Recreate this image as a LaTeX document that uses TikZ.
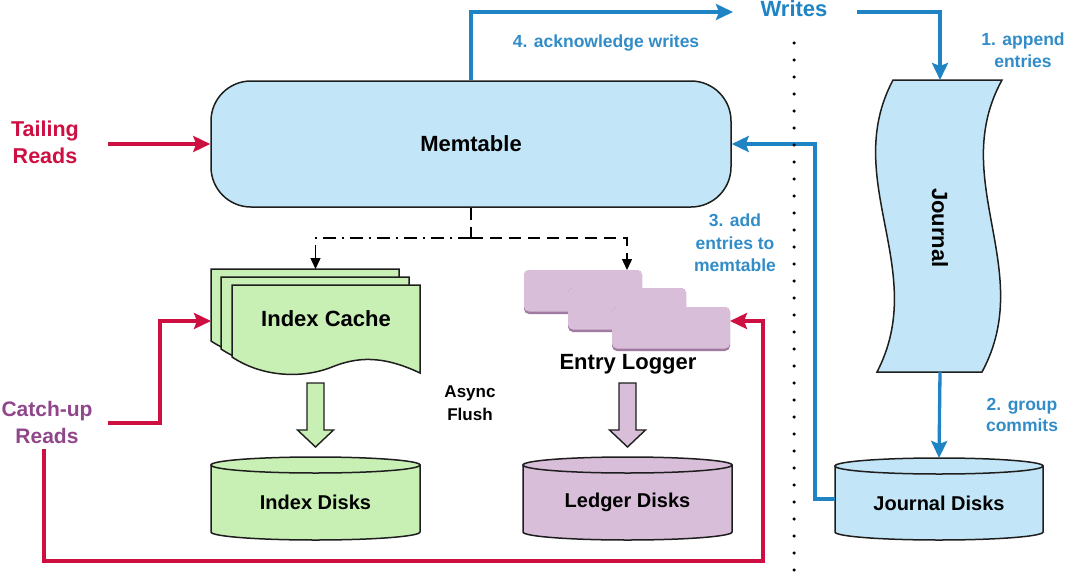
\documentclass[tikz,border=0pt]{standalone}
\usepackage{fontspec}
\setmainfont{Liberation Sans}
\usetikzlibrary{arrows.meta}
\definecolor{memblue}{RGB}{194,230,247}
\definecolor{cachegreen}{RGB}{200,239,180}
\definecolor{logpink}{RGB}{217,190,217}
\definecolor{logshadow}{RGB}{160,122,160}
\definecolor{lineblue}{RGB}{30,132,196}
\definecolor{txtblue}{RGB}{50,140,200}
\definecolor{readred}{RGB}{205,15,65}
\definecolor{catchpurple}{RGB}{145,70,140}
\definecolor{outline}{RGB}{30,30,30}
\begin{document}
\begin{tikzpicture}[x=1pt,y=-1pt,
  shapeline/.style={draw=outline, line width=1.5pt},
  big/.style={font=\bfseries\fontsize{22}{27}\selectfont, align=center, inner sep=0pt},
  mid/.style={font=\bfseries\fontsize{20}{24}\selectfont, align=center, inner sep=0pt},
  bluelbl/.style={text=txtblue, font=\bfseries\fontsize{17.5}{22.5}\selectfont, align=center, inner sep=0pt},
  ghost/.style={inner sep=0pt, outer sep=0pt},
  bluearrow/.style={draw=lineblue, line width=3.3pt, -{Stealth[length=17pt,width=16pt,inset=3pt]}},
  redarrow/.style={draw=readred, line width=3.3pt, -{Stealth[length=17pt,width=16pt,inset=3pt]}},
  blackarrow/.style={draw=black, line width=1.4pt, -{Triangle[length=11pt,width=10pt]}},
  blockarrow/.style={draw=outline, line width=1.4pt},
  dotline/.style={draw=black, line width=3.5pt, line cap=round, dash pattern=on 0pt off 17pt}
]
\useasboundingbox (0,0) rectangle (1086,586);

% ---------- Memtable ----------
\node[shapeline, fill=memblue, rounded corners=40pt, minimum width=520pt, minimum height=126pt, inner sep=0pt,
      font=\bfseries\fontsize{22}{27}\selectfont] (mem) at (471,144) {Memtable};

% ---------- Journal (tape) ----------
\filldraw[shapeline, fill=memblue] (893,80) -- (1002,80)
   .. controls (947,180) and (1037,270) .. (982,372) -- (877,372)
   .. controls (930,270) and (840,180) .. (893,80) -- cycle;
\node[ghost, minimum width=126pt, minimum height=292pt] (jrnl) at (940,226) {};
\node[big, rotate=-90] (jlbl) at (940,228) {Journal};

% ---------- Disks ----------
% Index Disks
\filldraw[shapeline, fill=cachegreen] (211,465) -- (211,532)
   .. controls (211,536.4) and (257.8,540) .. (315.5,540)
   .. controls (373.2,540) and (420,536.4) .. (420,532) -- (420,465) -- cycle;
\filldraw[shapeline, fill=cachegreen] (315.5,465) ellipse [x radius=104.5, y radius=8];
\node[ghost, minimum width=209pt, minimum height=75pt, mid] (idisk) at (315.5,502.5) {Index Disks};
% Ledger Disks
\filldraw[shapeline, fill=logpink] (523,465) -- (523,532)
   .. controls (523,536.4) and (569.8,540) .. (627.5,540)
   .. controls (685.2,540) and (732,536.4) .. (732,532) -- (732,465) -- cycle;
\filldraw[shapeline, fill=logpink] (627.5,465) ellipse [x radius=104.5, y radius=8];
\node[ghost, minimum width=209pt, minimum height=75pt, mid] (ldisk) at (627.5,502.5) {Ledger Disks};
% Journal Disks
\filldraw[shapeline, fill=memblue] (835,466) -- (835,532)
   .. controls (835,536.4) and (881.6,540) .. (939,540)
   .. controls (996.4,540) and (1043,536.4) .. (1043,532) -- (1043,466) -- cycle;
\filldraw[shapeline, fill=memblue] (939,466) ellipse [x radius=104, y radius=8];
\node[ghost, minimum width=208pt, minimum height=74pt, mid] (jdisk) at (939,503) {Journal Disks};

% ---------- Index Cache (multi document) ----------
\foreach \dx/\dy in {211/269, 221/277, 232/285}{
  \begin{scope}[shift={(\dx,\dy)}]
    \filldraw[shapeline, fill=cachegreen] (0,0) -- (188,0) -- (188,88)
      .. controls (150,70) and (125,72) .. (100,82)
      .. controls (70,94) and (30,92) .. (0,72) -- cycle;
  \end{scope}
}
\node[ghost, minimum width=209pt, minimum height=104pt] (icache) at (315.5,321) {};
\node[big] (iclbl) at (326,319) {Index Cache};

% ---------- Entry Logger ----------
\foreach \x/\y in {524/270, 568/288, 612/307}{
  \fill[logshadow, rounded corners=5pt] (\x,\y) rectangle ++(118,44);
  \fill[logpink, rounded corners=5pt] (\x,\y) rectangle ++(118,41.5);
}
\node[ghost, minimum width=206pt, minimum height=80pt] (elog) at (627,310) {};
\node[big] (ellbl) at (628,364) {Entry Logger};

% ---------- Block arrows ----------
\filldraw[blockarrow, fill=cachegreen] (307,383) -- (324,383) -- (324,430) -- (333.5,430) -- (315.5,447)
   -- (297.5,430) -- (307,430) -- cycle;
\filldraw[blockarrow, fill=logpink] (619,383) -- (636,383) -- (636,430) -- (645.5,430) -- (627.5,447)
   -- (609.5,430) -- (619,430) -- cycle;
\node[font=\bfseries\fontsize{17}{23}\selectfont, align=center, inner sep=0pt] (async) at (470,403) {Async\\Flush};

% ---------- Labels ----------
\node[text=lineblue, font=\bfseries\fontsize{22}{27}\selectfont, inner sep=0pt] (writes) at (794,9) {Writes};
\node[bluelbl] (ack) at (606,43) {4. acknowledge writes};
\node[bluelbl] (append) at (1023,50) {1. append\\entries};
\node[bluelbl, font=\bfseries\fontsize{17.5}{21}\selectfont] (group) at (1022,415) {2. group\\commits};
\node[bluelbl, font=\bfseries\fontsize{17.5}{22.5}\selectfont] (addent) at (735,243) {3. add\\entries to\\memtable};
\node[text=readred, font=\bfseries\fontsize{21.5}{27}\selectfont, align=center, inner sep=0pt] (tail) at (45,142) {Tailing\\Reads};
\node[text=catchpurple, font=\bfseries\fontsize{21}{27}\selectfont, align=center, inner sep=0pt] (catch) at (47,422) {Catch-up\\Reads};

% ---------- Coordinates ----------
\coordinate (wl) at (733,12);
\coordinate (wr) at (857,12);
\coordinate (tailstart) at (108,144);
\coordinate (cstart) at (108,423);
\coordinate (cbottomstart) at (44,449);
\coordinate (cbottom) at (763,561);
\coordinate (jturn) at (815,144);
\coordinate (junction) at (471,238);
\coordinate (dtop) at (794,43);
\coordinate (dbot) at (794,586);

% ---------- Connectors ----------
\draw[bluearrow] (mem.north) |- (wl);
\draw[bluearrow] (wr) -| (jrnl.north);
\draw[bluearrow] (jrnl.south) -- ([yshift=8pt]jdisk.north);
\draw[bluearrow] ([yshift=4pt]jdisk.west) -| (jturn) -- (mem.east);

\draw[redarrow] (tailstart) -- (mem.west);
\draw[redarrow] (cstart) -- ++(52,0) |- (icache.west);
\draw[redarrow] (cbottomstart) |- (cbottom) |- ([yshift=-11pt]elog.east);

\draw[black, line width=1.4pt, dash pattern=on 12pt off 7pt] (mem.south) -- (junction);
\draw[blackarrow, dash pattern=on 12pt off 7pt] (junction) -| (elog.north);
\draw[blackarrow, dash pattern=on 13pt off 6pt on 2pt off 6pt] (junction) -| (icache.north);

\draw[dotline] (dtop) -- (dbot);
\end{tikzpicture}
\end{document}
